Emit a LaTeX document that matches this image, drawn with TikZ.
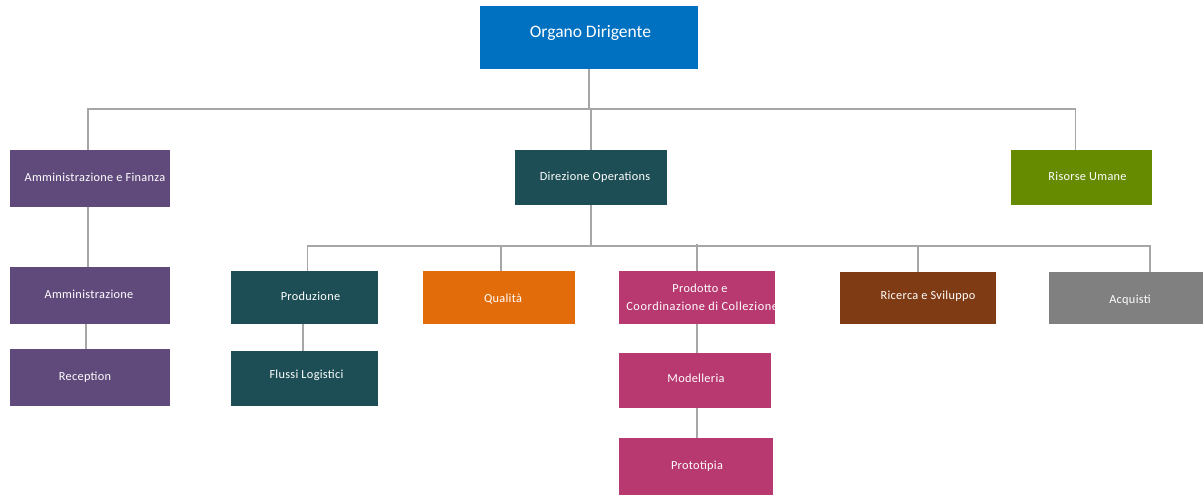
\documentclass[tikz,border=0pt]{standalone}
\usepackage{fontspec}
\setmainfont{Carlito}
\newfontfamily\boxfont[LetterSpace=2.5]{Carlito}
\newfontfamily\wideboxfont[LetterSpace=4.5]{Carlito}
\definecolor{cblue}{HTML}{0070C0}
\definecolor{cpurple}{HTML}{604A7B}
\definecolor{cteal}{HTML}{1E4E55}
\definecolor{cgreen}{HTML}{668A00}
\definecolor{corange}{HTML}{E36C0A}
\definecolor{cmagenta}{HTML}{B83870}
\definecolor{cbrown}{HTML}{7F3B14}
\definecolor{cgrey}{HTML}{808080}
\definecolor{cline}{HTML}{A6A6A6}
\tikzset{
  box/.style={fill=#1, draw=none, text=white, inner sep=0pt, text height=8pt, text depth=2.5pt, font=\boxfont\fontsize{12.3}{14}\selectfont},
  conn/.style={draw=cline, line width=1.8pt}
}
\begin{document}
\begin{tikzpicture}[x=1pt,y=-1pt]
\useasboundingbox (0,0) rectangle (1203,495);
% level 0
\node[box=cblue, minimum width=218pt, minimum height=63pt, font=\fontsize{17.5}{20}\selectfont] (org) at (589,37.5) {\raisebox{2.5pt}{\hspace*{3pt}Organo Dirigente}};
% level 1
\node[box=cpurple, minimum width=160pt, minimum height=57pt] (aef) at (90,178.5) {\hspace*{10pt}Amministrazione e Finanza};
\node[box=cteal, minimum width=152pt, minimum height=55pt] (dir) at (591,177.5) {\hspace*{8pt}Direzione Operations};
\node[box=cgreen, minimum width=141pt, minimum height=55pt] (ru) at (1081.5,177.5) {\hspace*{12pt}Risorse Umane};
% admin branch
\node[box=cpurple, minimum width=160pt, minimum height=57pt] (amm) at (90,295.5) {\hspace*{-2pt}Amministrazione};
\node[box=cpurple, minimum width=160pt, minimum height=57pt] (rec) at (90,377.5) {\hspace*{-10pt}Reception};
% operations children
\node[box=cteal, minimum width=147pt, minimum height=53pt] (prod) at (304.5,297.5) {\hspace*{12pt}Produzione};
\node[box=cteal, minimum width=147pt, minimum height=55pt] (flu) at (304.5,378.5) {\hspace*{4pt}\raisebox{3pt}{Flussi Logistici}};
\node[box=corange, minimum width=152pt, minimum height=53pt] (qua) at (499,297.5) {\hspace*{8pt}\raisebox{-2pt}{Qualità}};
\node[box=cmagenta, minimum width=156pt, minimum height=53pt,
  path picture={
    \node[text=white, inner sep=0pt, font=\boxfont\fontsize{12.3}{14}\selectfont] at ([xshift=3pt,yshift=7.5pt]path picture bounding box.center) {Prodotto e};
    \node[text=white, inner sep=0pt, anchor=west, font=\wideboxfont\fontsize{12.3}{14}\selectfont] at ([xshift=5pt,yshift=-10.5pt]path picture bounding box.west) {Coordinazione di Collezione};
  }] (pdc) at (697,297.5) {};
\node[box=cmagenta, minimum width=152pt, minimum height=55pt] (mod) at (695,380.5) {\hspace*{2pt}\raisebox{1pt}{Modelleria}};
\node[box=cmagenta, minimum width=154pt, minimum height=57pt] (pro) at (696,466.5) {\hspace*{2pt}Prototipia};
\node[box=cbrown, minimum width=156pt, minimum height=52pt] (ric) at (918,298) {\hspace*{20pt}\raisebox{1pt}{Ricerca e Sviluppo}};
\node[box=cgrey, minimum width=154pt, minimum height=52pt] (acq) at (1126,298) {\hspace*{8pt}\raisebox{-3pt}{Acquisti}};
% bus coordinates
\coordinate (b1) at (0,109);
\coordinate (b2) at (0,246);
% top level connectors
\draw[conn] (org.south) -- (org.south |- b1);
\draw[conn] ([xshift=-2pt]aef.north) -- ([xshift=-2pt]aef.north |- b1) -- ([xshift=-6pt]ru.north |- b1) -- ([xshift=-6pt]ru.north);
\draw[conn] (dir.north) -- (dir.north |- b1);
% admin chain
\draw[conn] ([xshift=-2pt]aef.south) -- ([xshift=-2pt]amm.north);
\draw[conn] ([xshift=-4pt]amm.south) -- ([xshift=-4pt]rec.north);
% operations bus
\draw[conn] (dir.south) -- (dir.south |- b2);
\draw[conn] ([xshift=3pt]prod.north) -- ([xshift=3pt]prod.north |- b2) -- ([xshift=24pt]acq.north |- b2) -- ([xshift=24pt]acq.north);
\draw[conn] ([xshift=2pt]qua.north) -- ([xshift=2pt]qua.north |- b2);
\draw[conn] (pdc.north) -- ([yshift=2pt]pdc.north |- b2);
\draw[conn] (ric.north) -- (ric.north |- b2);
% production chain
\draw[conn] ([xshift=-1.5pt]prod.south) -- ([xshift=-1.5pt]flu.north);
% product chain
\draw[conn] (pdc.south) -- (pdc.south |- mod.north);
\draw[conn] (pdc.south |- mod.south) -- (pdc.south |- pro.north);
\end{tikzpicture}
\end{document}
